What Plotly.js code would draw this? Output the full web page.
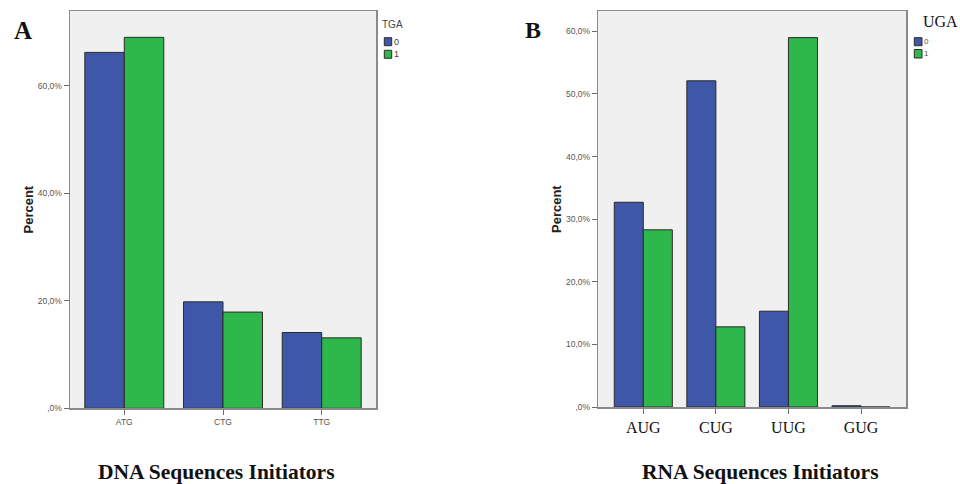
<!DOCTYPE html>
<html>
<head>
<meta charset="utf-8">
<script src="https://cdn.plot.ly/plotly-3.0.1.min.js"></script>
<style>html,body{margin:0;padding:0;background:#fff;}#chart{width:960px;height:484px;}</style>
</head>
<body>
<div id="chart"></div>
<script>
// ---- Data ----
const dnaCategories = ['ATG', 'CTG', 'TTG'];
const dnaTGA0 = [66.2, 19.8, 14.1];
const dnaTGA1 = [69.0, 17.9, 13.1];
const dnaTickVals = [0, 20, 40, 60];
const dnaTickText = [',0%', '20,0%', '40,0%', '60,0%'];

const rnaCategories = ['AUG', 'CUG', 'UUG', 'GUG'];
const rnaUGA0 = [32.7, 52.1, 15.3, 0.2];
const rnaUGA1 = [28.3, 12.8, 59.0, 0];
const rnaTickVals = [0, 10, 20, 30, 40, 50, 60];
const rnaTickText = [',0%', '10,0%', '20,0%', '30,0%', '40,0%', '50,0%', '60,0%'];

const legendLabels = ['0', '1'];

// ---- Styling ----
const W = 960, H = 484;
const px = x => x / W;
const py = y => 1 - y / H;
const BLUE = '#3e57a9';
const GREEN = '#2eb84b';
const OUTLINE = '#2b2b2b';
const SANS = 'Liberation Sans, Arial, sans-serif';
const SERIF = 'Liberation Serif, Times New Roman, serif';

function barTrace(x, y, color, xa, ya, name) {
  return {
    type: 'bar', x: x, y: y, name: name, xaxis: xa, yaxis: ya,
    marker: {color: color, line: {color: OUTLINE, width: 1}},
    showlegend: false, hoverinfo: 'x+y'
  };
}

const data = [
  barTrace(dnaCategories, dnaTGA0, BLUE, 'x', 'y', 'TGA 0'),
  barTrace(dnaCategories, dnaTGA1, GREEN, 'x', 'y', 'TGA 1'),
  barTrace(rnaCategories, rnaUGA0, BLUE, 'x2', 'y2', 'UGA 0'),
  barTrace(rnaCategories, rnaUGA1, GREEN, 'x2', 'y2', 'UGA 1')
];

const axisCommon = {
  showline: true, mirror: true, linecolor: '#8a8a8a', linewidth: 1.5,
  ticks: 'outside', ticklen: 5, tickcolor: '#6a6a6a', tickwidth: 1,
  showgrid: false, zeroline: false, fixedrange: true
};

const layout = {
  width: W, height: H,
  margin: {l: 0, r: 0, t: 0, b: 0},
  paper_bgcolor: '#ffffff',
  plot_bgcolor: '#f0f0f0',
  barmode: 'group',
  bargap: 0.2,
  bargroupgap: 0,
  xaxis: Object.assign({}, axisCommon, {
    domain: [px(70), px(376)], anchor: 'y',
    range: [-0.55, 2.55],
    tickfont: {family: SANS, size: 8.5, color: '#555'}
  }),
  yaxis: Object.assign({}, axisCommon, {
    domain: [py(408.3), py(11)], anchor: 'x',
    range: [0, 73.9],
    tickvals: dnaTickVals, ticktext: dnaTickText,
    tickfont: {family: SANS, size: 8.5, color: '#555'},
    title: {text: '<b>Percent</b>', font: {family: SANS, size: 13, color: '#222'}, standoff: 1}
  }),
  xaxis2: Object.assign({}, axisCommon, {
    domain: [px(598.3), px(906)], anchor: 'y2',
    range: [-0.62, 3.62],
    tickfont: {family: SERIF, size: 16, color: '#111'}
  }),
  yaxis2: Object.assign({}, axisCommon, {
    domain: [py(407), py(11.3)], anchor: 'x2',
    range: [0, 63.2],
    tickvals: rnaTickVals, ticktext: rnaTickText,
    tickfont: {family: SANS, size: 8.5, color: '#555'},
    title: {text: '<b>Percent</b>', font: {family: SANS, size: 13, color: '#222'}, standoff: 1}
  }),
  annotations: [
    {text: '<b>A</b>', x: px(12), y: py(30), xref: 'paper', yref: 'paper', xanchor: 'left', yanchor: 'middle', showarrow: false, font: {family: SERIF, size: 25, color: '#111'}},
    {text: '<b>B</b>', x: px(523), y: py(30), xref: 'paper', yref: 'paper', xanchor: 'left', yanchor: 'middle', showarrow: false, font: {family: SERIF, size: 24, color: '#111'}},
    {text: '<b>DNA Sequences Initiators</b>', x: px(216), y: py(472), xref: 'paper', yref: 'paper', xanchor: 'center', yanchor: 'middle', showarrow: false, font: {family: SERIF, size: 21.5, color: '#111'}},
    {text: '<b>RNA Sequences Initiators</b>', x: px(760), y: py(472), xref: 'paper', yref: 'paper', xanchor: 'center', yanchor: 'middle', showarrow: false, font: {family: SERIF, size: 21.5, color: '#111'}},
    // legend A
    {text: 'TGA', x: px(380), y: py(24), xref: 'paper', yref: 'paper', xanchor: 'left', yanchor: 'middle', showarrow: false, font: {family: SANS, size: 10, color: '#444'}},
    {text: legendLabels[0], x: px(391.5), y: py(41.7), xref: 'paper', yref: 'paper', xanchor: 'left', yanchor: 'middle', showarrow: false, font: {family: SANS, size: 9, color: '#444'}},
    {text: legendLabels[1], x: px(391.5), y: py(54.3), xref: 'paper', yref: 'paper', xanchor: 'left', yanchor: 'middle', showarrow: false, font: {family: SANS, size: 9, color: '#444'}},
    // legend B
    {text: 'UGA', x: px(921), y: py(22), xref: 'paper', yref: 'paper', xanchor: 'left', yanchor: 'middle', showarrow: false, font: {family: SERIF, size: 16, color: '#111'}},
    {text: legendLabels[0], x: px(922), y: py(41.7), xref: 'paper', yref: 'paper', xanchor: 'left', yanchor: 'middle', showarrow: false, font: {family: SANS, size: 8, color: '#555'}},
    {text: legendLabels[1], x: px(922), y: py(53.7), xref: 'paper', yref: 'paper', xanchor: 'left', yanchor: 'middle', showarrow: false, font: {family: SANS, size: 8, color: '#555'}}
  ],
  shapes: [
    {type: 'rect', xref: 'paper', yref: 'paper', x0: px(384.3), x1: px(391.7), y0: py(45.7), y1: py(37.7), fillcolor: BLUE, line: {color: OUTLINE, width: 1}},
    {type: 'rect', xref: 'paper', yref: 'paper', x0: px(384.3), x1: px(391.7), y0: py(58.3), y1: py(50.3), fillcolor: GREEN, line: {color: OUTLINE, width: 1}},
    {type: 'rect', xref: 'paper', yref: 'paper', x0: px(914.3), x1: px(922), y0: py(45.7), y1: py(37.7), fillcolor: BLUE, line: {color: OUTLINE, width: 1}},
    {type: 'rect', xref: 'paper', yref: 'paper', x0: px(914.3), x1: px(922), y0: py(58), y1: py(49.5), fillcolor: GREEN, line: {color: OUTLINE, width: 1}}
  ]
};

Plotly.newPlot('chart', data, layout, {displayModeBar: false, staticPlot: true});
</script>
</body>
</html>
